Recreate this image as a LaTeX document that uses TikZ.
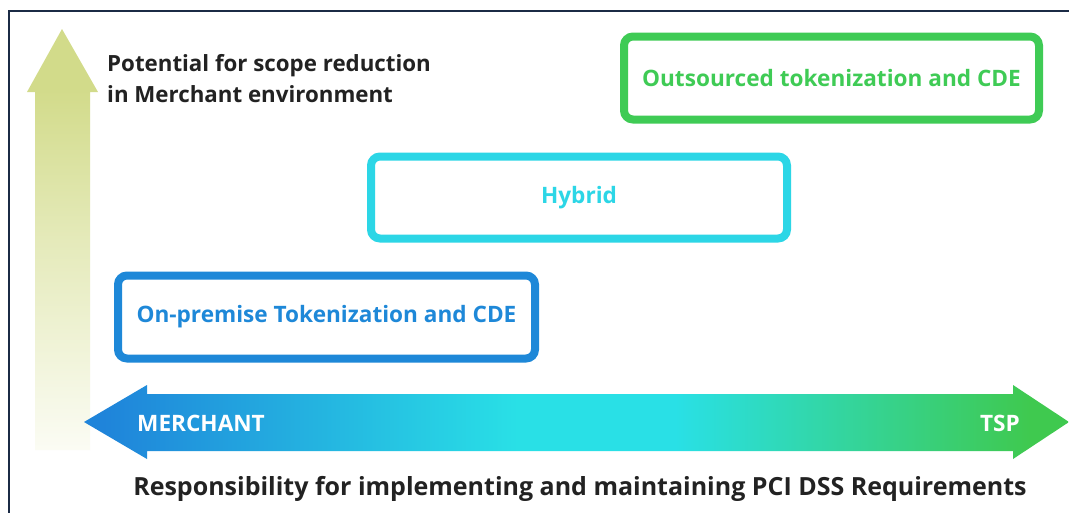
\documentclass[tikz,border=0pt]{standalone}
\usepackage{fontspec}
\setmainfont{Open Sans}
\definecolor{frame}{HTML}{1B2B45}
\definecolor{olive}{HTML}{D2DB8A}
\definecolor{oliveL}{HTML}{FBFCF4}
\definecolor{gblue}{HTML}{1F84DA}
\definecolor{gcyan}{HTML}{29E0E6}
\definecolor{ggreen}{HTML}{3FC94F}
\definecolor{bgreen}{HTML}{3FCB55}
\definecolor{bcyan}{HTML}{2CD6E6}
\definecolor{bblue}{HTML}{1E88D8}
\definecolor{txt}{HTML}{222222}
\pgfdeclarehorizontalshading{respgrad}{100bp}{color(0bp)=(gblue); color(26bp)=(gblue); color(47bp)=(gcyan); color(55bp)=(gcyan); color(73bp)=(ggreen); color(100bp)=(ggreen)}
\pgfdeclareverticalshading{upgrad}{100bp}{color(0bp)=(oliveL); color(25bp)=(oliveL); color(50bp)=(oliveL!45!olive); color(68bp)=(olive); color(100bp)=(olive)}
\tikzset{
  stage/.style={draw=#1, text=#1, line width=8pt, rounded corners=9pt, fill=white,
    font=\bfseries\fontsize{22.6}{26}\selectfont, inner sep=0pt},
  lbl/.style={font=\bfseries\fontsize{22.3}{31}\selectfont, text=txt, inner sep=0pt},
  arrlbl/.style={font=\bfseries\fontsize{22.6}{26}\selectfont, text=white, inner sep=0pt}
}
\begin{document}
\begin{tikzpicture}[x=1pt,y=-1pt]
\useasboundingbox (0,0) rectangle (1069,512);
\fill[white] (0,0) rectangle (1069,512);
% frame
\draw[frame, line width=2pt] (9,515) -- (9,11) -- (1072,11);
% up arrow
\shade[shading=upgrad] (35,450) -- (35,92) -- (27,92) -- (62,29) -- (98,92) -- (90,92) -- (90,450) -- cycle;
% horizontal arrow
\shade[shading=respgrad] (84,422) -- (147,385) -- (147,394) -- (1013,394) -- (1013,385) -- (1069,422) -- (1013,459) -- (1013,451) -- (147,451) -- (147,459) -- cycle;
\node[arrlbl, anchor=west] (merchant) at (137,423) {MERCHANT};
\node[arrlbl, anchor=east] (tsp) at (1020,423) {TSP};
% boxes
\node[stage=bgreen, minimum width=415pt, minimum height=83pt] (out) at (831.5,78) {\raisebox{-3pt}{Outsourced tokenization and CDE}};
\node[stage=bcyan, minimum width=416pt, minimum height=82pt] (hyb) at (579,197.5) {\raisebox{-2pt}{Hybrid}};
\node[stage=bblue, minimum width=417pt, minimum height=83pt] (onp) at (326.5,317) {\raisebox{-5pt}{On-premise Tokenization and CDE}};
% labels
\node[lbl, anchor=west, align=left] (pot) at (107,79) {Potential for scope reduction\\in Merchant environment};
\node[lbl, font=\bfseries\fontsize{25}{28}\selectfont] (resp) at (580,489) {Responsibility for implementing and maintaining PCI DSS Requirements};
\end{tikzpicture}
\end{document}
